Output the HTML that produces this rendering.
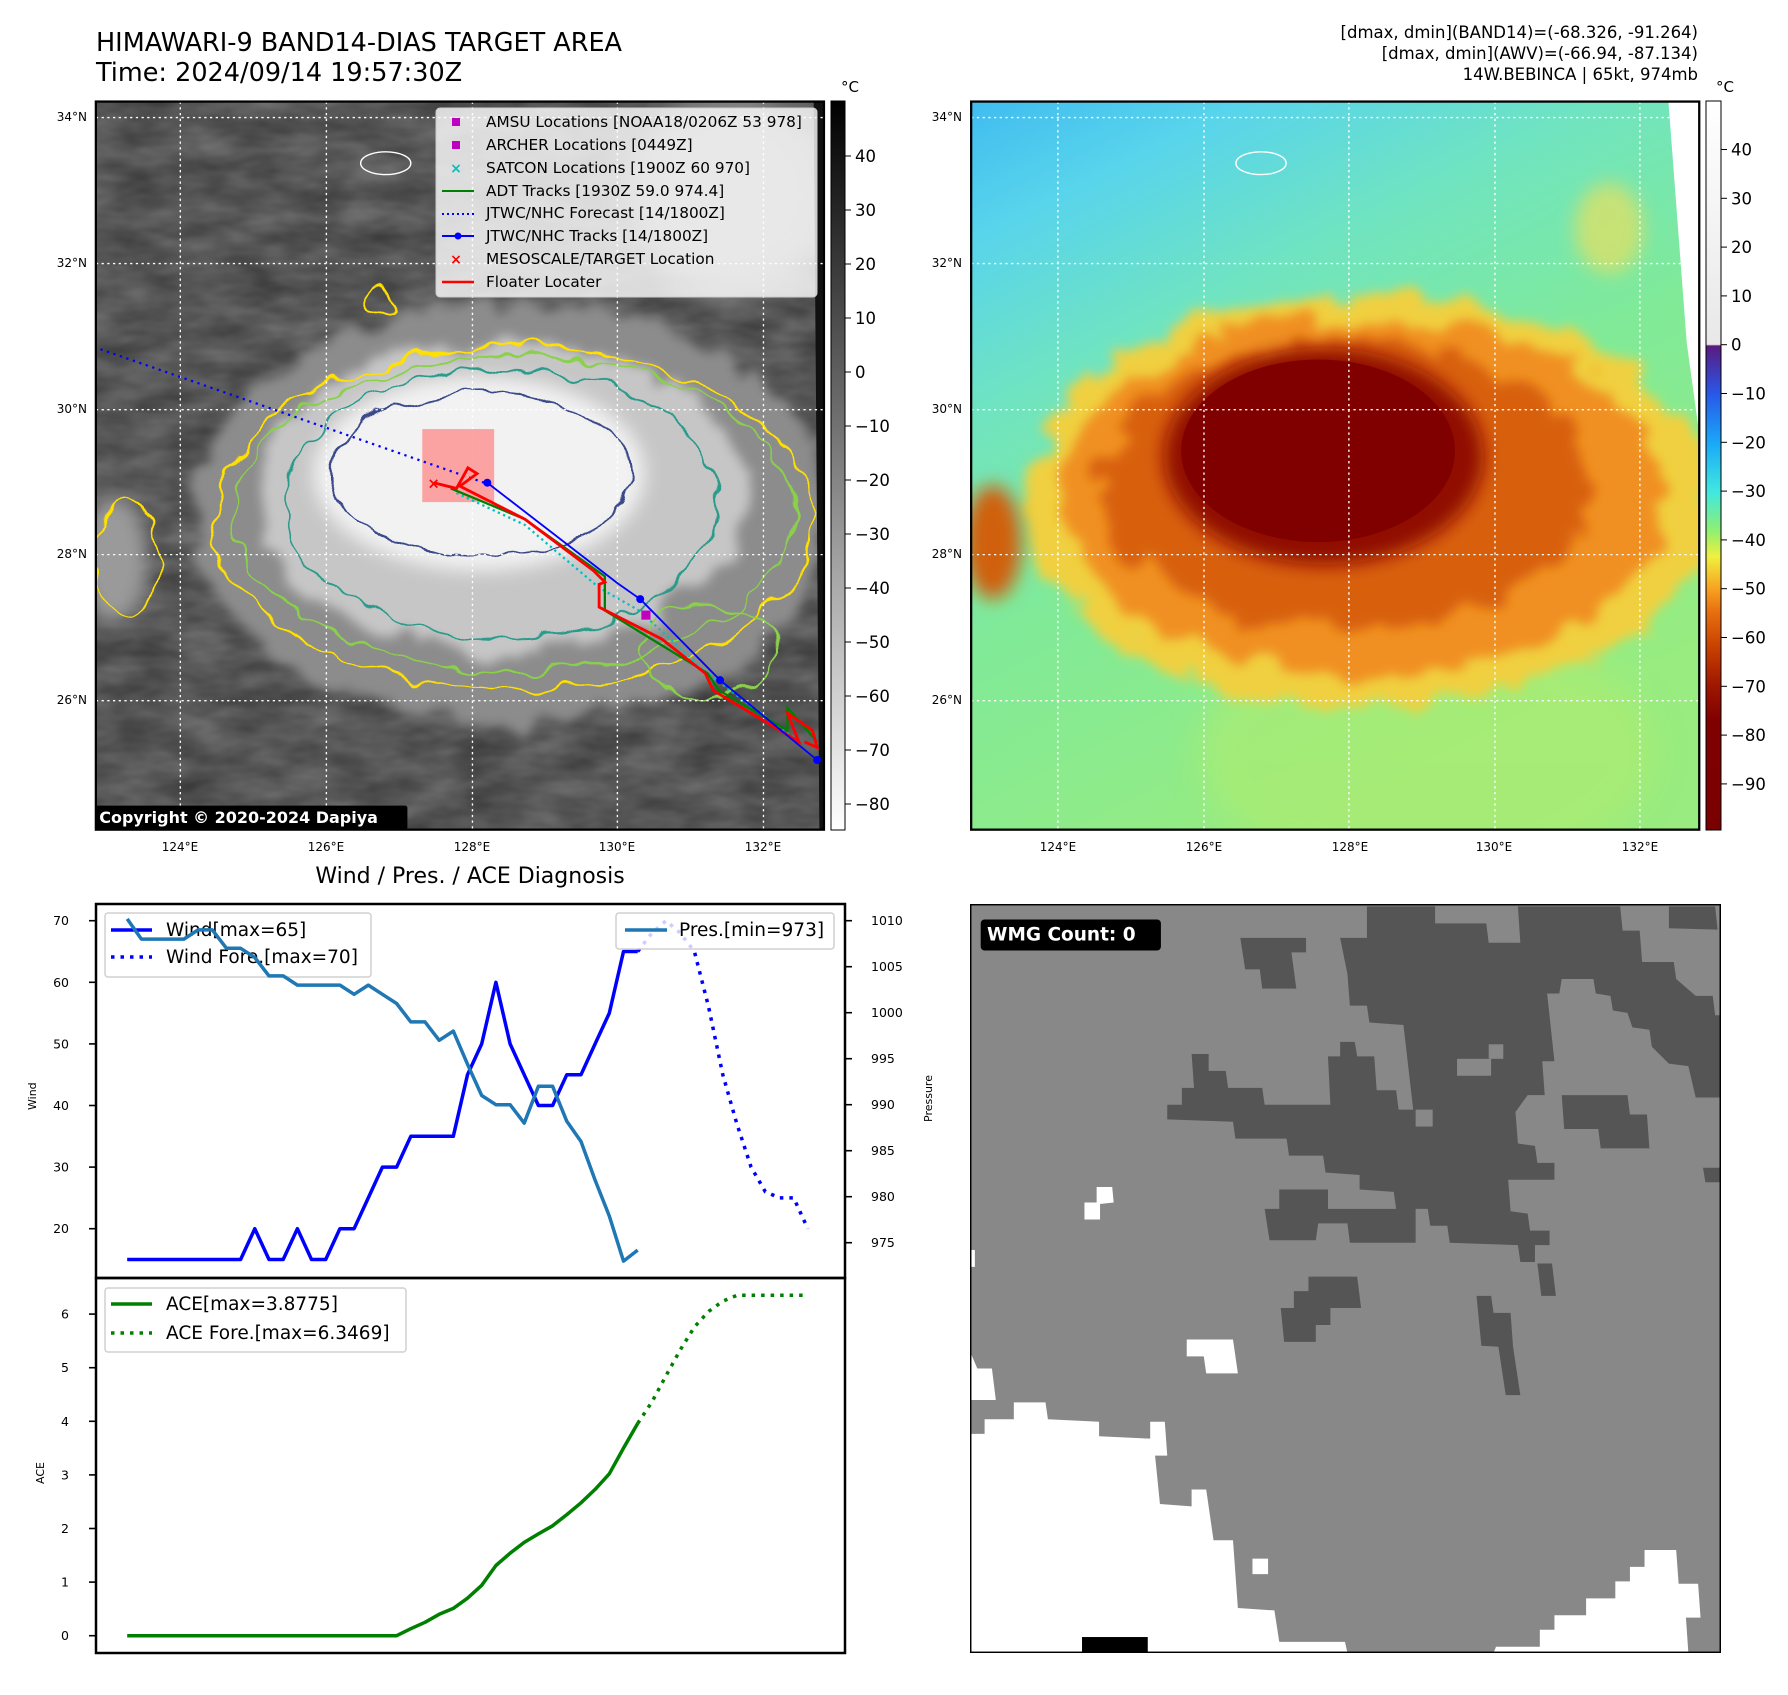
<!DOCTYPE html>
<html><head><meta charset="utf-8">
<style>
html,body{margin:0;padding:0;background:#fff;}
svg text{font-family:"DejaVu Sans","Liberation Sans",sans-serif;}
</style></head>
<body>
<svg id="root" width="1788" height="1690" viewBox="0 0 1788 1690" xmlns="http://www.w3.org/2000/svg">
<defs>
  <filter id="blur8" x="-30%" y="-30%" width="160%" height="160%"><feGaussianBlur stdDeviation="8"/></filter>
  <filter id="blur14" x="-30%" y="-30%" width="160%" height="160%"><feGaussianBlur stdDeviation="14"/></filter>
  <filter id="wobble" x="-20%" y="-20%" width="140%" height="140%">
    <feTurbulence type="fractalNoise" baseFrequency="0.035" numOctaves="2" seed="3" result="n"/>
    <feDisplacementMap in="SourceGraphic" in2="n" scale="22" xChannelSelector="R" yChannelSelector="G"/>
  </filter>
  <filter id="rough" x="-20%" y="-20%" width="140%" height="140%">
    <feTurbulence type="fractalNoise" baseFrequency="0.03" numOctaves="3" seed="11" result="n"/>
    <feDisplacementMap in="SourceGraphic" in2="n" scale="40" xChannelSelector="R" yChannelSelector="G" result="d"/>
    <feGaussianBlur in="d" stdDeviation="5"/>
  </filter>
  <filter id="texture" x="0" y="0" width="100%" height="100%">
    <feTurbulence type="fractalNoise" baseFrequency="0.02 0.05" numOctaves="3" seed="7" result="t"/>
    <feColorMatrix in="t" type="matrix" values="0 0 0 0 0.5  0 0 0 0 0.5  0 0 0 0 0.5  0 0 0 0.5 -0.05"/>
  </filter>
  <linearGradient id="cbGray" x1="0" y1="0" x2="0" y2="1">
    <stop offset="0" stop-color="#000"/><stop offset="1" stop-color="#fff"/>
  </linearGradient>
  <linearGradient id="cbColor" x1="0" y1="0" x2="0" y2="1">
    <stop offset="0" stop-color="#ffffff"/>
    <stop offset="0.334" stop-color="#e8e8e8"/>
    <stop offset="0.336" stop-color="#5a1a80"/>
    <stop offset="0.402" stop-color="#2858e8"/>
    <stop offset="0.469" stop-color="#1aa8f8"/>
    <stop offset="0.536" stop-color="#40e8e0"/>
    <stop offset="0.59" stop-color="#90f070"/>
    <stop offset="0.625" stop-color="#f0f040"/>
    <stop offset="0.67" stop-color="#f8a020"/>
    <stop offset="0.70" stop-color="#e87010"/>
    <stop offset="0.75" stop-color="#c84000"/>
    <stop offset="0.80" stop-color="#a01800"/>
    <stop offset="0.85" stop-color="#800000"/>
    <stop offset="1" stop-color="#7a0000"/>
  </linearGradient>
  <linearGradient id="rightBg" x1="0" y1="0" x2="0.5" y2="1">
    <stop offset="0" stop-color="#40bcf0"/>
    <stop offset="0.15" stop-color="#58d4ec"/>
    <stop offset="0.35" stop-color="#70e4c0"/>
    <stop offset="0.6" stop-color="#80ea98"/>
    <stop offset="1" stop-color="#98ec80"/>
  </linearGradient>
  <clipPath id="clipL"><rect x="84" y="89" width="638" height="638"/></clipPath>
  <clipPath id="clipR"><rect x="851" y="89" width="638" height="638"/></clipPath>
</defs>

<!-- Titles -->
<text x="96" y="51" font-size="25.5" fill="#000">HIMAWARI-9 BAND14-DIAS TARGET AREA</text>
<text x="96" y="81" font-size="25.5" fill="#000">Time: 2024/09/14 19:57:30Z</text>
<g font-size="16.5" text-anchor="end" fill="#000">
  <text x="1698" y="38">[dmax, dmin](BAND14)=(-68.326, -91.264)</text>
  <text x="1698" y="59">[dmax, dmin](AWV)=(-66.94, -87.134)</text>
  <text x="1698" y="80">14W.BEBINCA | 65kt, 974mb</text>
</g>

<!-- LEFT MAP (display coords scaled) -->
<g transform="scale(1.1412)">
  <g clip-path="url(#clipL)">
    <rect x="84" y="89" width="638" height="638" fill="#3c3c3c"/>
    <rect x="84" y="89" width="638" height="638" filter="url(#texture)"/>
    <ellipse cx="640" cy="170" rx="90" ry="90" fill="#8a8a8a" filter="url(#blur14)"/>
    <ellipse cx="100" cy="490" rx="30" ry="55" fill="#9a9a9a" filter="url(#blur8)"/>
    <ellipse cx="450" cy="450" rx="280" ry="185" fill="#8c8c8c" filter="url(#rough)"/>
    <ellipse cx="440" cy="435" rx="215" ry="135" fill="#c6c6c6" filter="url(#rough)"/>
    <ellipse cx="420" cy="415" rx="145" ry="85" fill="#f2f2f2" filter="url(#blur8)"/>
    <polygon points="713,89 722,89 722,727 718,727" fill="#111"/>
    <g fill="none" stroke-width="1.8" filter="url(#wobble)">
      <ellipse cx="450" cy="455" rx="262" ry="150" stroke="#ffe000"/>
      <ellipse cx="450" cy="450" rx="245" ry="138" stroke="#8ad04a"/>
      <ellipse cx="440" cy="440" rx="190" ry="118" stroke="#2a9a8a"/>
      <ellipse cx="420" cy="415" rx="130" ry="72" stroke="#3a4a8a"/>
      <ellipse cx="110" cy="490" rx="28" ry="50" stroke="#ffe000"/>
      <ellipse cx="330" cy="265" rx="12" ry="12" stroke="#ffe000"/>
      <ellipse cx="620" cy="570" rx="60" ry="40" stroke="#8ad04a"/>
    </g>
    <ellipse cx="338" cy="143" rx="22" ry="10" fill="none" stroke="#fff" stroke-width="1.2"/>
    <g stroke="#fff" stroke-width="1.2" stroke-dasharray="2,3">
      <line x1="158" y1="89" x2="158" y2="727"/><line x1="286" y1="89" x2="286" y2="727"/>
      <line x1="414" y1="89" x2="414" y2="727"/><line x1="541" y1="89" x2="541" y2="727"/>
      <line x1="669" y1="89" x2="669" y2="727"/>
      <line x1="84" y1="103" x2="722" y2="103"/><line x1="84" y1="231" x2="722" y2="231"/>
      <line x1="84" y1="359" x2="722" y2="359"/><line x1="84" y1="486" x2="722" y2="486"/>
      <line x1="84" y1="614" x2="722" y2="614"/>
    </g>
    <rect x="370" y="376" width="63" height="64" fill="#ff8080" opacity="0.7"/>
    <polyline points="88,306 430,425" fill="none" stroke="#0000ff" stroke-width="2" stroke-dasharray="2,4"/>
    <polyline points="400,432 460,460 525,515 560,535 620,590 700,650" fill="none" stroke="#00c0c0" stroke-width="2" stroke-dasharray="2,3"/>
    <polyline points="395,428 460,455 530,505 530,535 620,590 630,605 690,640 690,620 716,650" fill="none" stroke="#008000" stroke-width="2"/>
    <polyline points="380,423 400,428 410,410 418,415 403,426 460,455 520,500 530,510 525,512 525,532 580,560 618,590 625,605 700,650 690,625 712,640 716,655 705,650" fill="none" stroke="#ff0000" stroke-width="2.5"/>
    <polyline points="427,423 541,511 561,525 631,596 716,666" fill="none" stroke="#0000ff" stroke-width="1.6"/>
    <g fill="#0000ff"><circle cx="427" cy="423" r="3.5"/><circle cx="561" cy="525" r="3.5"/><circle cx="631" cy="596" r="3.5"/><circle cx="716" cy="666" r="3.5"/></g>
    <rect x="562" y="535" width="8" height="8" fill="#c000c0"/>
    <text x="380" y="428" font-size="13" fill="#ff0000" text-anchor="middle" font-weight="bold">×</text>
    <rect x="82" y="706" width="275" height="21" rx="2" fill="#000"/>
    <text x="87" y="721" font-size="14" font-weight="bold" fill="#fff">Copyright © 2020-2024 Dapiya</text>
  </g>
  <rect x="84" y="89" width="638" height="638" fill="none" stroke="#000" stroke-width="2"/>
</g>

<!-- Left map legend -->
<g>
  <rect x="436" y="108" width="381" height="189" rx="4" fill="#fff" fill-opacity="0.8" stroke="#ccc"/>
  <g font-size="15.3" fill="#000">
    <text x="486" y="127">AMSU Locations [NOAA18/0206Z 53 978]</text>
    <text x="486" y="150">ARCHER Locations [0449Z]</text>
    <text x="486" y="173">SATCON Locations [1900Z 60 970]</text>
    <text x="486" y="196">ADT Tracks [1930Z 59.0 974.4]</text>
    <text x="486" y="218">JTWC/NHC Forecast [14/1800Z]</text>
    <text x="486" y="241">JTWC/NHC Tracks [14/1800Z]</text>
    <text x="486" y="264">MESOSCALE/TARGET Location</text>
    <text x="486" y="287">Floater Locater</text>
  </g>
  <rect x="452" y="118" width="8" height="8" fill="#c000c0"/>
  <rect x="452" y="141" width="8" height="8" fill="#c000c0"/>
  <text x="456" y="173" font-size="14" fill="#00c0c0" text-anchor="middle" font-weight="bold">×</text>
  <line x1="442" y1="191" x2="474" y2="191" stroke="#008000" stroke-width="2"/>
  <line x1="442" y1="214" x2="474" y2="214" stroke="#0000ff" stroke-width="2" stroke-dasharray="2,3"/>
  <line x1="442" y1="236" x2="474" y2="236" stroke="#0000ff" stroke-width="2"/><circle cx="458" cy="236" r="3.5" fill="#0000ff"/>
  <text x="456" y="264" font-size="14" fill="#ff0000" text-anchor="middle" font-weight="bold">×</text>
  <line x1="442" y1="282" x2="474" y2="282" stroke="#ff0000" stroke-width="2.5"/>
</g>

<!-- RIGHT MAP -->
<g transform="scale(1.1412)">
  <g clip-path="url(#clipR)">
    <rect x="851" y="89" width="638" height="638" fill="url(#rightBg)"/>
    <ellipse cx="1250" cy="660" rx="200" ry="110" fill="#b0ec70" filter="url(#blur14)" opacity="0.6"/>
    <ellipse cx="1410" cy="200" rx="30" ry="40" fill="#e8e060" filter="url(#blur8)" opacity="0.7"/>
    <ellipse cx="1200" cy="440" rx="300" ry="180" fill="#f0d040" filter="url(#rough)"/>
    <ellipse cx="1195" cy="435" rx="265" ry="158" fill="#f09020" filter="url(#rough)"/>
    <ellipse cx="1180" cy="425" rx="215" ry="128" fill="#d86010" filter="url(#rough)"/>
    <ellipse cx="1160" cy="400" rx="140" ry="95" fill="#900800" filter="url(#blur8)"/>
    <ellipse cx="1155" cy="395" rx="120" ry="80" fill="#800000"/>
    <ellipse cx="870" cy="475" rx="25" ry="50" fill="#d06010" filter="url(#blur8)"/>
    <polygon points="1462,89 1489,89 1489,380 1478,300" fill="#fff"/>
    <ellipse cx="1105" cy="143" rx="22" ry="10" fill="none" stroke="#fff" stroke-width="1.2"/>
    <g stroke="#fff" stroke-width="1.2" stroke-dasharray="2,3">
      <line x1="927" y1="89" x2="927" y2="727"/><line x1="1055" y1="89" x2="1055" y2="727"/>
      <line x1="1182" y1="89" x2="1182" y2="727"/><line x1="1310" y1="89" x2="1310" y2="727"/>
      <line x1="1437" y1="89" x2="1437" y2="727"/>
      <line x1="851" y1="103" x2="1489" y2="103"/><line x1="851" y1="231" x2="1489" y2="231"/>
      <line x1="851" y1="359" x2="1489" y2="359"/><line x1="851" y1="486" x2="1489" y2="486"/>
      <line x1="851" y1="614" x2="1489" y2="614"/>
    </g>
  </g>
  <rect x="851" y="89" width="638" height="638" fill="none" stroke="#000" stroke-width="2"/>
</g>

<!-- Map tick labels -->
<g font-size="12" fill="#000">
  <g text-anchor="end">
    <text x="87" y="121">34°N</text><text x="87" y="267">32°N</text><text x="87" y="413">30°N</text><text x="87" y="558">28°N</text><text x="87" y="704">26°N</text>
    <text x="962" y="121">34°N</text><text x="962" y="267">32°N</text><text x="962" y="413">30°N</text><text x="962" y="558">28°N</text><text x="962" y="704">26°N</text>
  </g>
  <g text-anchor="middle">
    <text x="180" y="851">124°E</text><text x="326" y="851">126°E</text><text x="472" y="851">128°E</text><text x="617" y="851">130°E</text><text x="763" y="851">132°E</text>
    <text x="1058" y="851">124°E</text><text x="1204" y="851">126°E</text><text x="1350" y="851">128°E</text><text x="1494" y="851">130°E</text><text x="1640" y="851">132°E</text>
  </g>
</g>

<!-- Colorbars -->
<g>
  <rect x="831" y="101" width="14" height="729" fill="url(#cbGray)" stroke="#000" stroke-width="1"/>
  <text x="841" y="92" font-size="15">°C</text>
  <g font-size="16.5" fill="#000" id="cbTicksL"></g>
</g>
<g>
  <rect x="1706" y="101" width="15" height="729" fill="url(#cbColor)" stroke="#000" stroke-width="1"/>
  <text x="1716" y="92" font-size="15">°C</text>
  <g font-size="16.5" fill="#000" id="cbTicksR"></g>
</g>

<!-- Bottom chart title -->
<text x="470" y="883" font-size="22" text-anchor="middle">Wind / Pres. / ACE Diagnosis</text>

<!-- Wind / pressure panel -->
<g id="windPanel"></g>
<g id="acePanel"></g>

<!-- WMG panel -->
<svg x="970" y="904" width="751" height="749" viewBox="5 5 1542 1548" preserveAspectRatio="none">
  <rect x="5" y="5" width="1542" height="1548" fill="#888888"/>
  <g fill="#555555">
    <polygon points="765,75 820,75 820,10 960,10 960,45 1065,45 1070,85 1135,85 1130,10 1340,10 1345,60 1380,60 1385,125 1450,125 1455,160 1495,195 1530,195 1535,235 1547,235 1547,405 1495,405 1480,340 1440,335 1405,300 1400,265 1365,260 1355,230 1325,225 1320,195 1290,190 1285,160 1220,160 1215,190 1190,190 1205,330 1180,330 1185,400 1150,400 1125,435 1130,500 1165,505 1170,540 1205,540 1205,575 1110,575 1115,640 1150,645 1155,680 1195,680 1195,710 1165,710 1165,745 1135,745 1130,710 990,705 985,670 950,670 945,635 920,635 920,705 785,705 780,665 720,665 715,700 620,700 610,635 640,635 640,595 740,595 740,635 880,635 875,600 805,595 805,565 735,560 730,525 660,525 655,490 550,490 545,455 410,450 410,420 440,420 440,385 465,385 460,315 495,315 495,350 530,350 535,385 605,385 610,420 745,420 740,320 765,320 765,290 795,290 800,320 835,320 840,390 880,390 885,430 915,430 895,255 825,250 820,215 785,215 780,150"/>
    <polygon points="560,75 695,75 695,105 665,105 675,180 605,180 600,140 570,140"/>
    <polygon points="1220,400 1355,400 1360,440 1395,440 1400,510 1300,510 1295,470 1225,470"/>
    <polygon points="1510,550 1547,550 1547,580 1515,580"/>
    <polygon points="700,775 800,775 808,840 745,840 745,875 715,875 715,910 650,910 643,840 670,840 670,805 700,805"/>
    <polygon points="1045,815 1075,815 1080,850 1115,850 1120,920 1135,1020 1105,1020 1090,920 1055,918"/>
    <polygon points="1170,748 1200,748 1208,815 1178,815"/>
    <polygon points="1440,10 1535,10 1540,58 1440,55"/>
  </g>
  <g fill="#888888">
    <rect x="1005" y="325" width="70" height="35"/><rect x="1070" y="295" width="30" height="30"/><rect x="920" y="430" width="35" height="35"/>
  </g>
  <g fill="#ffffff">
    <polygon points="5,1100 35,1100 35,1070 95,1070 95,1035 160,1035 165,1070 270,1075 270,1105 375,1110 375,1075 405,1075 410,1145 385,1145 395,1245 460,1250 460,1215 490,1215 505,1320 545,1320 555,1460 630,1465 640,1530 775,1530 780,1553 5,1553"/>
    <polygon points="1080,1553 1085,1540 1175,1540 1175,1505 1205,1505 1205,1475 1270,1475 1270,1440 1330,1440 1330,1405 1360,1405 1360,1375 1390,1375 1390,1340 1455,1340 1460,1410 1500,1410 1505,1480 1475,1480 1480,1553"/>
    <polygon points="450,905 545,905 555,975 490,975 485,940 450,940"/>
    <rect x="585" y="1358" width="32" height="32"/>
    <polygon points="240,622 265,622 265,590 297,590 300,622 272,625 272,657 240,657"/>
    <rect x="5" y="720" width="10" height="35"/>
    <polygon points="5,930 20,965 50,965 58,1030 5,1030"/>
  </g>
  <rect x="235" y="1520" width="135" height="33" fill="#000"/>
  <rect x="5" y="5" width="1542" height="1548" fill="none" stroke="#000" stroke-width="6"/>
  <rect x="27" y="37" width="370" height="64" rx="8" fill="#000"/>
  <text x="40" y="80" font-size="38" font-weight="bold" fill="#fff">WMG Count: 0</text>
</svg>

<script>
// ---- Chart data ----
const windObs = [15,15,15,15,15,15,15,15,15,20,15,15,20,15,15,20,20,25,30,30,35,35,35,35,45,50,60,50,45,40,40,45,45,50,55,65,65];
const windFcst = [65,68,70,68,65,56,45,37,30,26,25,25,20];
const presObs = [1010.2,1008,1008,1008,1008,1009,1009,1007,1007,1006,1004,1004,1003,1003,1003,1003,1002,1003,1002,1001,999,999,997,998,994.4,991,990,990,988,992,992,988.2,986,981.8,977.9,973,974.2];
const aceObs = [0,0,0,0,0,0,0,0,0,0,0,0,0,0,0,0,0,0,0,0,0.13,0.25,0.4,0.51,0.7,0.94,1.31,1.54,1.74,1.9,2.05,2.26,2.48,2.73,3.02,3.5,3.96];
const aceFcst = [3.96,4.36,4.85,5.33,5.76,6.05,6.24,6.35,6.35,6.35,6.35,6.35,6.35];
const windTicks = [20,30,40,50,60,70];
const presTicks = [975,980,985,990,995,1000,1005,1010];
const aceTicks = [0,1,2,3,4,5,6];
const cbTicksIR = [40,30,20,10,0,-10,-20,-30,-40,-50,-60,-70,-80];
const cbTicksAWV = [40,30,20,10,0,-10,-20,-30,-40,-50,-60,-70,-80,-90];
const fcstStart = 36;

const NS = 'http://www.w3.org/2000/svg';
function mk(tag, attrs, parent){ const e=document.createElementNS(NS,tag); for(const k in attrs) e.setAttribute(k,attrs[k]); if(parent) parent.appendChild(e); return e; }
function xAt(i){ return 127.2 + i*14.18; }
function yWind(w){ return 920.7 + (70-w)*6.16; }
function yPres(p){ return 920.7 + (1010-p)*9.2; }
function yAce(a){ return 1635.7 - a*53.6; }
function pts(arr, off, fy){ return arr.map((v,i)=>xAt(i+off).toFixed(1)+','+fy(v).toFixed(1)).join(' '); }

const cbL = document.getElementById('cbTicksL');
cbTicksIR.forEach(v=>{
  const y = 156 + (40-v)*5.4;
  const t = mk('line',{x1:845,y1:y,x2:851,y2:y,stroke:'#000','stroke-width':1},cbL);
  
  
  const l = mk('text',{x:855,y:y+6},cbL); l.textContent = (v<0?'\u2212'+(-v):String(v));
  
  
});
const cbR = document.getElementById('cbTicksR');
cbTicksAWV.forEach(v=>{
  const y = 149.5 + (40-v)*4.88;
  const t = mk('line',{x1:1721,y1:y,x2:1727,y2:y,stroke:'#000','stroke-width':1},cbR);
  
  
  const l = mk('text',{x:1731,y:y+6},cbR); l.textContent = (v<0?'\u2212'+(-v):String(v));
  
  
});

const wp = document.getElementById('windPanel');
mk('rect',{x:96,y:904,width:749,height:374,fill:'#fff'},wp);
windTicks.forEach(v=>{
  const y=yWind(v);
  mk('line',{x1:89,y1:y,x2:96,y2:y,stroke:'#000','stroke-width':1.6},wp);
  const t=mk('text',{x:69,y:y+4.5,'font-size':12.5,'text-anchor':'end'},wp); t.textContent=v;
  
  
});
presTicks.forEach(v=>{
  const y=yPres(v);
  mk('line',{x1:845,y1:y,x2:852,y2:y,stroke:'#000','stroke-width':1.6},wp);
  const t=mk('text',{x:871,y:y+4.5,'font-size':12.5},wp); t.textContent=v;
  
  
});
const wl = mk('text',{x:0,y:0,'font-size':11,transform:'translate(36,1110) rotate(-90)'},wp); wl.textContent='Wind';


const pl = mk('text',{x:0,y:0,'font-size':11,transform:'translate(932,1122) rotate(-90)'},wp); pl.textContent='Pressure';



const wLine = mk('polyline',{points:pts(windObs,0,yWind),fill:'none',stroke:'#0000ff','stroke-width':3.5,'stroke-linejoin':'round'},wp);


const wfLine = mk('polyline',{points:pts(windFcst,fcstStart,yWind),fill:'none',stroke:'#0000ff','stroke-width':3.5,'stroke-dasharray':'3.5,6'},wp);



const wleg = mk('g',{},wp);


mk('rect',{x:105,y:913,width:266,height:64,rx:3,fill:'#fff','fill-opacity':0.8,stroke:'#d0d0d0','stroke-width':1.5},wleg);
mk('line',{x1:111,y1:930,x2:152,y2:930,stroke:'#0000ff','stroke-width':3.5},wleg);
mk('line',{x1:111,y1:957,x2:152,y2:957,stroke:'#0000ff','stroke-width':3.5,'stroke-dasharray':'3.5,6'},wleg);
const wt1=mk('text',{x:166,y:936,'font-size':18.5},wleg); wt1.textContent='Wind[max=65]';
const wt2=mk('text',{x:166,y:963,'font-size':18.5},wleg); wt2.textContent='Wind Fore.[max=70]';

const pLine = mk('polyline',{points:pts(presObs,0,yPres),fill:'none',stroke:'#1f77b4','stroke-width':3.5,'stroke-linejoin':'round'},wp);



const pleg = mk('g',{},wp);


mk('rect',{x:616,y:913,width:218,height:36,rx:3,fill:'#fff','fill-opacity':0.8,stroke:'#d0d0d0','stroke-width':1.5},pleg);
mk('line',{x1:625,y1:930,x2:667,y2:930,stroke:'#1f77b4','stroke-width':3.5},pleg);
const pt1=mk('text',{x:679,y:936,'font-size':18.5},pleg); pt1.textContent='Pres.[min=973]';
mk('rect',{x:96,y:904,width:749,height:374,fill:'none',stroke:'#000','stroke-width':2.5},wp);

const ap = document.getElementById('acePanel');
aceTicks.forEach(v=>{
  const y=yAce(v);
  mk('line',{x1:89,y1:y,x2:96,y2:y,stroke:'#000','stroke-width':1.6},ap);
  const t=mk('text',{x:69,y:y+4.5,'font-size':12.5,'text-anchor':'end'},ap); t.textContent=v;
  
  
});
const al = mk('text',{x:0,y:0,'font-size':11,transform:'translate(44,1484) rotate(-90)'},ap); al.textContent='ACE';


const aLine = mk('polyline',{points:pts(aceObs,0,yAce),fill:'none',stroke:'#008000','stroke-width':3.5,'stroke-linejoin':'round'},ap);


const afLine = mk('polyline',{points:pts(aceFcst,fcstStart,yAce),fill:'none',stroke:'#008000','stroke-width':3.5,'stroke-dasharray':'3.5,6'},ap);


const aleg = mk('g',{},ap);


mk('rect',{x:105,y:1288,width:301,height:64,rx:3,fill:'#fff','fill-opacity':0.8,stroke:'#d0d0d0','stroke-width':1.5},aleg);
mk('line',{x1:111,y1:1304,x2:152,y2:1304,stroke:'#008000','stroke-width':3.5},aleg);
mk('line',{x1:111,y1:1333,x2:152,y2:1333,stroke:'#008000','stroke-width':3.5,'stroke-dasharray':'3.5,6'},aleg);
const at1=mk('text',{x:166,y:1310,'font-size':18.5},aleg); at1.textContent='ACE[max=3.8775]';
const at2=mk('text',{x:166,y:1339,'font-size':18.5},aleg); at2.textContent='ACE Fore.[max=6.3469]';
mk('rect',{x:96,y:1278,width:749,height:375,fill:'none',stroke:'#000','stroke-width':2.5},ap);
</script>
</svg>
</body></html>
